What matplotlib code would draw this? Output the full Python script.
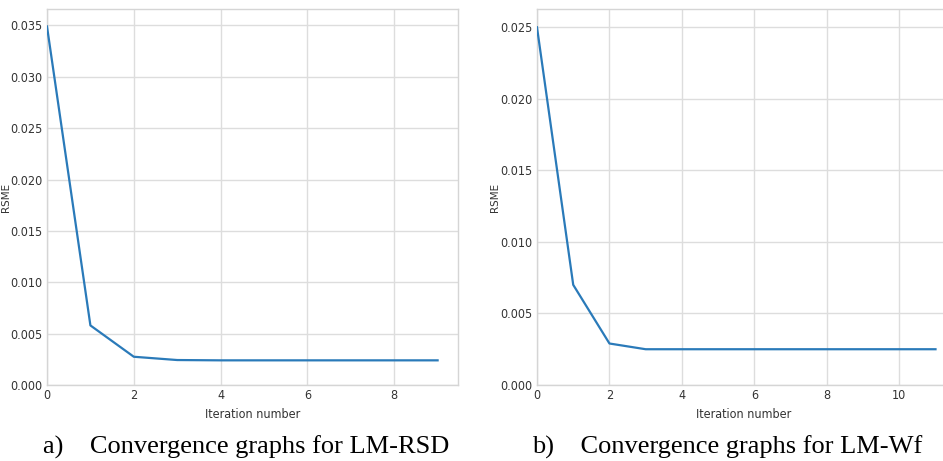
import matplotlib
matplotlib.use("Agg")
import matplotlib.pyplot as plt

# data
iters_rsd = list(range(10))
rsme_rsd = [0.0349, 0.0058, 0.00275, 0.00243, 0.0024, 0.0024, 0.0024, 0.0024, 0.0024, 0.0024]
iters_wf = list(range(12))
rsme_wf = [0.0250, 0.0070, 0.0029, 0.0025, 0.0025, 0.0025, 0.0025, 0.0025, 0.0025, 0.0025, 0.0025, 0.0025]

captions = ["a)    Convergence graphs for LM-RSD", "b)    Convergence graphs for LM-Wf"]

fig = plt.figure(figsize=(9.43, 4.61), dpi=100)
W, H = 943, 461

def make_ax(left, right, top, bottom):
    return fig.add_axes([left / W, 1 - bottom / H, (right - left) / W, (bottom - top) / H])

ax1 = make_ax(47, 458, 9, 385)
ax2 = make_ax(537, 950, 9, 385)

setups = [
    (ax1, iters_rsd, rsme_rsd, (0, 9.47), (0, 0.0366), [0, 2, 4, 6, 8], -0.087),
    (ax2, iters_wf, rsme_wf, (0, 11.4), (0, 0.02628), [0, 2, 4, 6, 8, 10], -0.09),
]

for ax, x, y, xl, yl, xt, ylab_x in setups:
    ax.plot(x, y, color="#2a7ab9", lw=1.6, zorder=3)
    ax.set_xlim(*xl)
    ax.set_ylim(*yl)
    ax.set_xticks(xt)
    ax.grid(True, color="#dddddd", lw=1.0)
    ax.set_axisbelow(True)
    for s in ax.spines.values():
        s.set_color("#d5d5d5")
        s.set_linewidth(1.0)
    ax.tick_params(length=0, pad=3, labelsize=9, labelcolor="#333333")
    for lab in ax.get_xticklabels() + ax.get_yticklabels():
        lab.set_fontstretch("condensed")
    ax.yaxis.set_major_formatter(matplotlib.ticker.FormatStrFormatter("%.3f"))
    ax.set_xlabel("Iteration number", fontsize=9, fontstretch="condensed", color="#333333")
    ax.set_ylabel("RSME", fontsize=7.5, color="#333333")
    ax.yaxis.set_label_coords(ylab_x, 0.5)
    ax.xaxis.set_label_coords(0.5, -0.061)

fig.text(246 / W, 1 - 447 / H, captions[0], family="Liberation Serif", fontsize=19,
         ha="center", va="center")
fig.text(727 / W, 1 - 447 / H, captions[1], family="Liberation Serif", fontsize=19,
         ha="center", va="center")

fig.savefig("out.png", dpi=100)
